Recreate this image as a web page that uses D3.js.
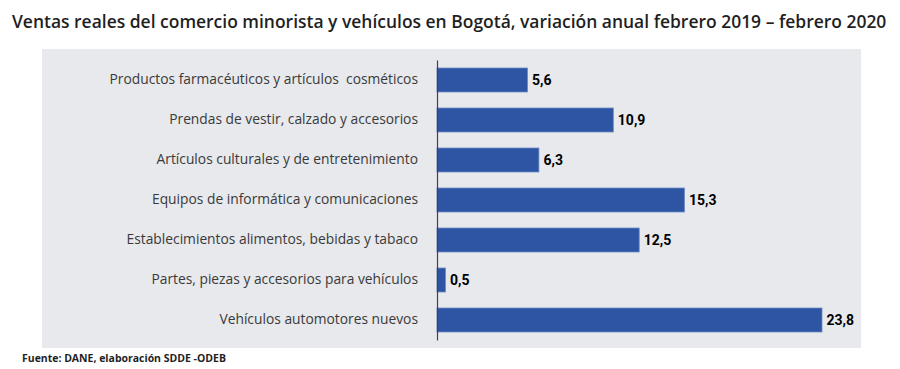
<!DOCTYPE html>
<html><head><meta charset="utf-8">
<script src="https://cdn.jsdelivr.net/npm/d3@7"></script>
<style>body{margin:0;background:#fff}svg{display:block}</style>
</head><body>
<svg id="c" width="900" height="369"></svg>
<script>
const categories = [
  "Productos farmacéuticos y artículos  cosméticos",
  "Prendas de vestir, calzado y accesorios",
  "Artículos culturales y de entretenimiento",
  "Equipos de informática y comunicaciones",
  "Establecimientos alimentos, bebidas y tabaco",
  "Partes, piezas y accesorios para vehículos",
  "Vehículos automotores nuevos"
];
const values = [5.6, 10.9, 6.3, 15.3, 12.5, 0.5, 23.8];
const title = "Ventas reales del comercio minorista y vehículos en Bogotá, variación anual febrero 2019 – febrero 2020";
const source = "Fuente: DANE, elaboración SDDE -ODEB";

const svg = d3.select("#c");
const x0 = 437;
const x = d3.scaleLinear().domain([0, 23.8]).range([x0, 822]);
const y = d3.scaleBand().domain(categories).range([60, 340]).paddingInner(0.4).paddingOuter(0.2);

function fit(sel, target) {
  const fs = parseFloat(sel.attr("font-size"));
  const w = sel.node().getComputedTextLength();
  sel.attr("font-size", fs * target / w);
  return fs * target / w;
}

svg.append("rect").attr("x", 42).attr("y", 49).attr("width", 819).attr("height", 299).attr("fill", "#e7e9ec");

const t = svg.append("text").attr("x", 12).attr("y", 28)
  .attr("font-family", "'Open Sans', sans-serif").attr("font-weight", 600)
  .attr("font-size", 16).attr("fill", "#1f1f1f").text(title);
fit(t, 875);

svg.append("g").selectAll("rect").data(values).join("rect")
  .attr("x", x0).attr("y", (d, i) => y(categories[i]))
  .attr("width", d => Math.max(x(d) - x0, 8.5)).attr("height", y.bandwidth())
  .attr("fill", "#2d55a3").attr("stroke", "#6f8cc6").attr("stroke-width", 0.8);

const vl = svg.append("g").selectAll("text").data(values).join("text")
  .attr("x", d => Math.max(x(d), x0 + 8.5) + 4.5).attr("y", (d, i) => y(categories[i]) + y.bandwidth() / 2)
  .attr("dy", "0.36em").attr("font-family", "Roboto, sans-serif").attr("font-weight", 700)
  .attr("font-size", 14).attr("fill", "#000").text(d => d3.format(".1f")(d).replace(".", ","));
const last = d3.select(vl.nodes()[values.length - 1]);
const vfs = fit(last, 27.6);
vl.attr("font-size", vfs);

const yAxis = d3.axisLeft(y).tickSize(0).tickPadding(19);
const ga = svg.append("g").attr("transform", `translate(${x0},0)`).call(yAxis);
ga.select(".domain").attr("stroke", "#444").attr("stroke-width", 1.2);
const labels = ga.selectAll("text").attr("font-family", "'Open Sans', sans-serif").attr("font-size", 13)
  .attr("fill", "#3a3a3a").style("white-space", "pre");
const first = ga.select(".tick text");
const fs = fit(first, 309);
labels.attr("font-size", fs);

const s = svg.append("text").attr("x", 22).attr("y", 362)
  .attr("font-family", "'Open Sans', sans-serif").attr("font-weight", 700)
  .attr("font-size", 10).attr("fill", "#1f1f1f").text(source);
fit(s, 204);
</script>
</body></html>
